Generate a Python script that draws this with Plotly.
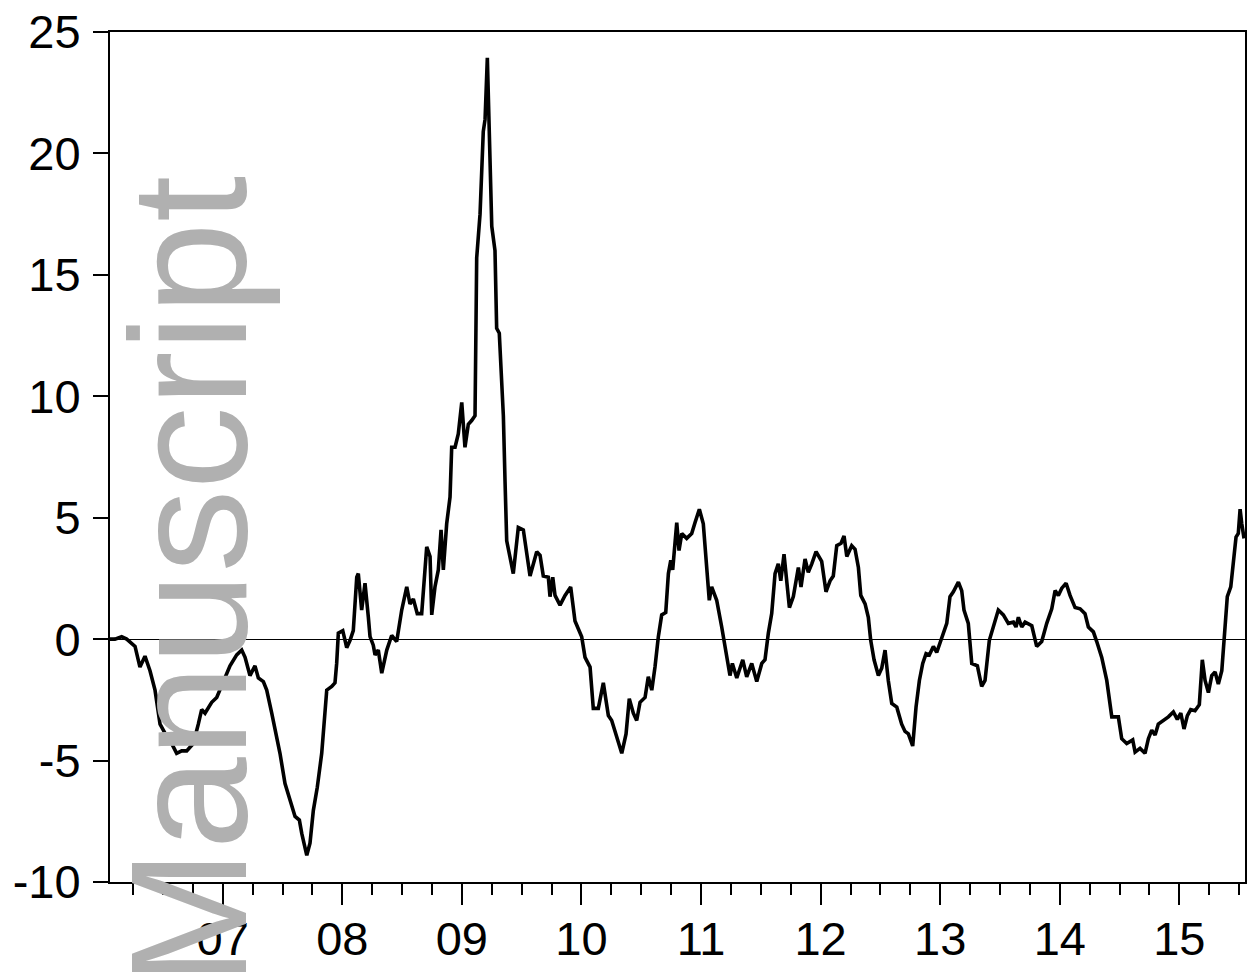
import plotly.graph_objects as go

# Observation dates (decimal years) and series values
t_years = [
    2006.057, 2006.099, 2006.155, 2006.197, 2006.267, 2006.308, 2006.350, 2006.392,
    2006.434, 2006.476, 2006.532, 2006.574, 2006.615, 2006.657, 2006.699, 2006.754,
    2006.796, 2006.824, 2006.852, 2006.908, 2006.950, 2007.005, 2007.061, 2007.117,
    2007.159, 2007.187, 2007.228, 2007.270, 2007.298, 2007.340, 2007.368, 2007.410,
    2007.452, 2007.479, 2007.521, 2007.563, 2007.605, 2007.641, 2007.661, 2007.703,
    2007.730, 2007.758, 2007.791, 2007.828, 2007.870, 2007.912, 2007.939, 2007.953,
    2007.967, 2008.004, 2008.037, 2008.065, 2008.092, 2008.121, 2008.134, 2008.162,
    2008.190, 2008.218, 2008.232, 2008.259, 2008.274, 2008.301, 2008.330, 2008.372,
    2008.413, 2008.455, 2008.497, 2008.539, 2008.566, 2008.594, 2008.627, 2008.664,
    2008.706, 2008.734, 2008.748, 2008.775, 2008.803, 2008.826, 2008.845, 2008.873,
    2008.901, 2008.915, 2008.943, 2008.970, 2008.999, 2009.026, 2009.054, 2009.082,
    2009.110, 2009.124, 2009.152, 2009.179, 2009.194, 2009.213, 2009.235, 2009.250,
    2009.277, 2009.291, 2009.313, 2009.347, 2009.361, 2009.375, 2009.430, 2009.472,
    2009.514, 2009.570, 2009.626, 2009.654, 2009.681, 2009.723, 2009.737, 2009.760,
    2009.779, 2009.821, 2009.863, 2009.910, 2009.946, 2010.002, 2010.030, 2010.072,
    2010.099, 2010.141, 2010.183, 2010.225, 2010.253, 2010.295, 2010.337, 2010.373,
    2010.400, 2010.434, 2010.462, 2010.490, 2010.532, 2010.559, 2010.588, 2010.615,
    2010.643, 2010.671, 2010.705, 2010.727, 2010.747, 2010.763, 2010.797, 2010.816,
    2010.839, 2010.880, 2010.922, 2010.950, 2010.986, 2011.019, 2011.048, 2011.069,
    2011.089, 2011.131, 2011.173, 2011.215, 2011.242, 2011.262, 2011.299, 2011.349,
    2011.382, 2011.424, 2011.466, 2011.508, 2011.535, 2011.563, 2011.591, 2011.619,
    2011.646, 2011.667, 2011.694, 2011.739, 2011.772, 2011.814, 2011.836, 2011.870,
    2011.897, 2011.926, 2011.962, 2012.009, 2012.045, 2012.079, 2012.106, 2012.135,
    2012.171, 2012.196, 2012.219, 2012.260, 2012.288, 2012.316, 2012.336, 2012.372,
    2012.399, 2012.419, 2012.447, 2012.483, 2012.511, 2012.539, 2012.566, 2012.595,
    2012.637, 2012.678, 2012.706, 2012.734, 2012.770, 2012.798, 2012.826, 2012.854,
    2012.882, 2012.909, 2012.943, 2012.971, 2013.013, 2013.055, 2013.082, 2013.110,
    2013.152, 2013.180, 2013.199, 2013.235, 2013.264, 2013.311, 2013.347, 2013.375,
    2013.411, 2013.444, 2013.486, 2013.528, 2013.570, 2013.612, 2013.634, 2013.654,
    2013.682, 2013.710, 2013.766, 2013.807, 2013.849, 2013.891, 2013.933, 2013.961,
    2013.988, 2014.017, 2014.053, 2014.086, 2014.128, 2014.170, 2014.211, 2014.239,
    2014.281, 2014.309, 2014.351, 2014.393, 2014.435, 2014.490, 2014.518, 2014.560,
    2014.610, 2014.630, 2014.671, 2014.713, 2014.741, 2014.769, 2014.797, 2014.824,
    2014.866, 2014.908, 2014.950, 2014.983, 2015.012, 2015.039, 2015.067, 2015.095,
    2015.131, 2015.167, 2015.192, 2015.215, 2015.243, 2015.271, 2015.299, 2015.326,
    2015.355, 2015.382, 2015.401, 2015.430, 2015.452, 2015.474, 2015.493, 2015.508,
    2015.522, 2015.541,
]

spread = [
    0.0, 0.0, 0.1, 0.0, -0.3, -1.15, -0.7, -1.3,
    -2.1, -3.5, -4.0, -4.3, -4.7, -4.6, -4.6, -4.3,
    -3.5, -2.9, -3.05, -2.6, -2.4, -1.8, -1.1, -0.65,
    -0.45, -0.75, -1.5, -1.1, -1.6, -1.75, -2.1, -3.05,
    -4.0, -4.7, -5.95, -6.65, -7.3, -7.45, -8.0, -8.9,
    -8.4, -7.05, -6.1, -4.7, -2.1, -1.95, -1.8, -1.0,
    0.25, 0.35, -0.35, -0.05, 0.35, 2.55, 2.7, 1.2,
    2.3, 0.9, 0.1, -0.25, -0.65, -0.45, -1.4, -0.45,
    0.15, -0.1, 1.2, 2.15, 1.45, 1.65, 1.05, 1.05,
    3.8, 3.4, 1.0, 2.15, 2.85, 4.5, 2.85, 4.75,
    5.85, 7.9, 7.9, 8.45, 9.75, 7.9, 8.85, 9.0,
    9.2, 15.7, 17.5, 20.9, 21.4, 23.94, 19.8, 17.0,
    16.0, 12.8, 12.6, 9.2, 6.5, 4.05, 2.7, 4.6,
    4.5, 2.6, 3.6, 3.45, 2.6, 2.55, 1.75, 2.55,
    1.8, 1.4, 1.8, 2.15, 0.75, 0.1, -0.75, -1.15,
    -2.85, -2.85, -1.8, -3.15, -3.35, -4.05, -4.7, -3.9,
    -2.45, -3.05, -3.35, -2.6, -2.4, -1.55, -2.1, -1.15,
    0.1, 1.0, 1.1, 2.7, 3.25, 2.85, 4.8, 3.65,
    4.35, 4.15, 4.35, 4.8, 5.35, 4.75, 3.1, 1.6,
    2.15, 1.6, 0.5, -0.6, -1.5, -1.0, -1.6, -0.85,
    -1.55, -1.0, -1.75, -1.0, -0.85, 0.25, 1.05, 2.7,
    3.1, 2.4, 3.5, 1.3, 1.75, 2.95, 2.15, 3.3,
    2.75, 3.1, 3.6, 3.2, 1.95, 2.4, 2.6, 3.85,
    3.95, 4.25, 3.4, 3.85, 3.7, 2.95, 1.8, 1.45,
    0.9, -0.05, -0.85, -1.5, -1.2, -0.45, -1.7, -2.65,
    -2.8, -3.5, -3.8, -3.9, -4.4, -2.8, -1.7, -1.0,
    -0.6, -0.65, -0.3, -0.55, 0.0, 0.65, 1.75, 1.95,
    2.35, 2.0, 1.2, 0.65, -1.0, -1.1, -1.95, -1.7,
    -0.05, 0.5, 1.2, 1.0, 0.65, 0.7, 0.5, 0.9,
    0.5, 0.7, 0.55, -0.3, -0.1, 0.65, 1.25, 2.0,
    1.8, 2.1, 2.3, 1.8, 1.3, 1.25, 1.05, 0.5,
    0.3, -0.1, -0.75, -1.7, -3.2, -3.2, -4.1, -4.3,
    -4.15, -4.65, -4.5, -4.7, -4.1, -3.75, -3.95, -3.5,
    -3.35, -3.2, -3.0, -3.3, -3.05, -3.7, -3.15, -2.9,
    -2.95, -2.7, -0.85, -1.7, -2.2, -1.5, -1.35, -1.85,
    -1.3, 0.25, 1.75, 2.15, 3.1, 4.2, 4.35, 5.35,
    4.75, 4.15,
]

year_ticks = [2007, 2008, 2009, 2010, 2011, 2012, 2013, 2014, 2015]
year_labels = ["07", "08", "09", "10", "11", "12", "13", "14", "15"]
value_ticks = [-10, -5, 0, 5, 10, 15, 20, 25]
value_labels = ["-10", "-5", "0", "5", "10", "15", "20", "25"]

FONT = "Liberation Sans, Arial, sans-serif"

fig = go.Figure()
fig.add_trace(go.Scatter(
    x=t_years, y=spread, mode="lines",
    line=dict(color="black", width=3.6),
    showlegend=False, hoverinfo="skip",
))

fig.update_layout(
    width=1254, height=972,
    margin=dict(l=110, r=9, t=32, b=90),
    paper_bgcolor="white", plot_bgcolor="white",
    font=dict(family=FONT, color="black", size=47),
)

fig.update_xaxes(
    range=[2006.0575, 2015.549], automargin=False,
    tickmode="array", tickvals=year_ticks, ticktext=year_labels,
    ticks="outside", ticklen=21, tickwidth=2, tickcolor="black",
    ticklabelstandoff=-6,
    minor=dict(tickmode="linear", tick0=2007, dtick=0.25, ticks="outside",
               ticklen=11, tickwidth=2, tickcolor="black", showgrid=False),
    showline=True, linecolor="black", linewidth=2, mirror=True,
    showgrid=False, zeroline=False,
    tickfont=dict(size=47, family=FONT, color="black"),
)

fig.update_yaxes(
    range=[-10, 25], automargin=False,
    tickmode="array", tickvals=value_ticks, ticktext=value_labels,
    ticks="outside", ticklen=15, tickwidth=2, tickcolor="black",
    ticklabelstandoff=3,
    showline=True, linecolor="black", linewidth=2, mirror=True,
    showgrid=False,
    zeroline=True, zerolinecolor="black", zerolinewidth=1.3,
    tickfont=dict(size=47, family=FONT, color="black"),
)

# Vertical grey "Manuscript" stamp
fig.add_annotation(
    text="Manuscript", xref="paper", yref="paper",
    x=0.0695, y=0.353, xanchor="center", yanchor="middle",
    textangle=-90, showarrow=False,
    font=dict(family=FONT, size=166, color="#b0b0b0"),
)

fig.write_html("out.html")
